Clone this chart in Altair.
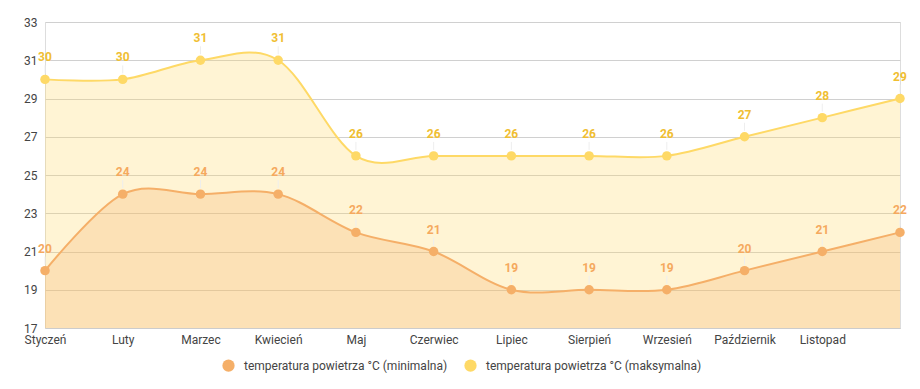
import altair as alt
import pandas as pd

months = ["Styczeń", "Luty", "Marzec", "Kwiecień", "Maj", "Czerwiec", "Lipiec",
          "Sierpień", "Wrzesień", "Październik", "Listopad", "Grudzień"]
t_min = [20, 24, 24, 24, 22, 21, 19, 19, 19, 20, 21, 22]
t_max = [30, 30, 31, 31, 26, 26, 26, 26, 26, 27, 28, 29]
s_min = "temperatura powietrza °C (minimalna)"
s_max = "temperatura powietrza °C (maksymalna)"

rows = []
for m, a, b in zip(months, t_min, t_max):
    rows.append({"month": m, "series": s_min, "value": a})
    rows.append({"month": m, "series": s_max, "value": b})
df = pd.DataFrame(rows)
df["base"] = 17

FONT = "Roboto"
x = alt.X("month:N", sort=months, title=None,
          scale=alt.Scale(type="point", padding=0),
          axis=alt.Axis(labelAngle=0, labelFont=FONT, labelFontSize=12, labelColor="#444",
                        domainColor="#ccc", ticks=False, labelPadding=6, grid=False,
                        labelExpr="datum.value == 'Grudzień' ? '' : datum.value"))
y = alt.Y("value:Q", title=None,
          scale=alt.Scale(domain=[17, 33], nice=False, zero=False),
          axis=alt.Axis(values=list(range(17, 34, 2)), labelFont=FONT, labelFontSize=12,
                        labelColor="#444", domain=False, ticks=False, labelPadding=8,
                        gridColor="#d0d0d0"))
color = alt.Color("series:N", sort=[s_min, s_max],
                  scale=alt.Scale(domain=[s_min, s_max], range=["#F5AF68", "#FED966"]),
                  legend=alt.Legend(orient="none", legendX=177, legendY=337,
                                    direction="horizontal", title=None, symbolType="circle",
                                    symbolSize=150, labelFont=FONT, labelFontSize=12,
                                    labelColor="#444", columnPadding=16, labelOffset=9,
                                    symbolStrokeWidth=0, labelLimit=400))

base = alt.Chart(df)
d_max = base.transform_filter(alt.datum.series == s_max)
d_min = base.transform_filter(alt.datum.series == s_min)

def layers(d, fill, labc):
    area = d.mark_area(interpolate="cardinal", opacity=0.28, color=fill).encode(
        x=x, y=y, y2="base:Q")
    line = d.mark_line(interpolate="cardinal", strokeWidth=2).encode(x=x, y=y, color=color)
    conn = d.mark_rule(color="#eeeeee", strokeWidth=1, yOffset=-6, y2Offset=-14).encode(
        x=x, y=y, y2="value:Q")
    pts = d.mark_circle(size=90, opacity=1).encode(x=x, y=y, color=color)
    txt = d.mark_text(dy=-22, font=FONT, fontSize=12, fontWeight="bold", color=labc).encode(
        x=x, y=y, text="value:Q")
    return [area, conn, line, pts, txt]

lmax = layers(d_max, "#FED966", "#F0BE32")
lmin = layers(d_min, "#F5AF68", "#F5A95E")

chart = alt.layer(lmax[0], lmin[0], lmax[1], lmin[1], lmax[2], lmin[2], lmax[3], lmin[3],
                  lmax[4], lmin[4]).properties(
    width=855, height=306,
    autosize=alt.AutoSizeParams(type="none"),
    padding={"left": 37, "top": 14, "right": 12, "bottom": 53},
).configure_view(stroke=None).configure(background="white")

chart.save("out.html", embed_options={"renderer": "svg", "actions": False})
